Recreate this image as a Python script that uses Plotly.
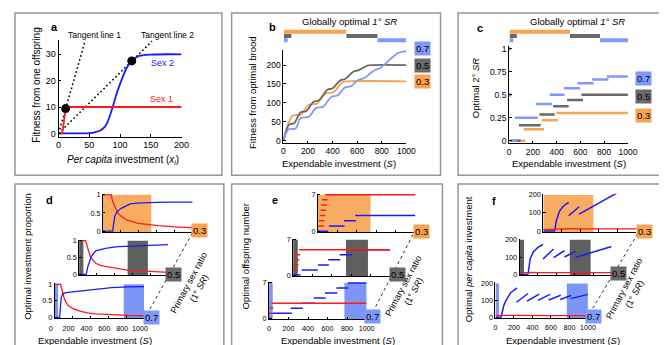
import plotly.graph_objects as go

W, H = 667, 345
FONT = "Liberation Sans, Arial, Helvetica, sans-serif"

RED = "rgb(255,25,25)"
BLUE = "rgb(25,25,255)"
C03 = "rgb(247,163,80)"
C05 = "rgb(105,105,105)"
C07 = "rgb(128,152,250)"
R03 = "rgb(248,172,98)"
R05 = "rgb(95,95,95)"
R07 = "rgb(125,150,245)"

# ---------------- Panel a data ----------------
a_sex1_x = [0, 6, 11.5, 12.5, 200]
a_sex1_y = [0, 0, 9.4, 10, 10]
a_sex2_x = [0, 50, 60, 67, 75, 80, 88, 95, 102, 110, 119, 130, 150, 200]
a_sex2_y = [0, 0.1, 0.5, 1, 2.5, 4.5, 10, 15.5, 20, 24.5, 27.5, 29.3, 29.9, 30]
a_tan1_x = [0, 43]
a_tan1_y = [0, 35]
a_tan2_x = [0, 152]
a_tan2_y = [0, 35]
a_pts_x = [11.5, 119]
a_pts_y = [9.4, 27.5]
a_xticks = [0, 50, 100, 150, 200]
a_yticks = [0, 10, 20, 30]

# ---------------- Panel b data ----------------
b_S_03 = [0, 75, 140, 206, 272, 344, 405, 484, 524, 1000]
b_F_03 = [0, 66, 68, 95, 98, 125, 128, 155, 157, 157]
b_S_05 = [0, 48, 87, 140, 185, 246, 286, 360, 397, 466, 503, 571, 608, 690, 740, 1000]
b_F_05 = [0, 43, 46, 75, 78, 103, 106, 135, 138, 160, 163, 183, 186, 199, 200, 200]
b_S_07 = [0, 42, 100, 140, 206, 265, 325, 386, 444, 497, 550, 611, 656, 735, 788, 868, 934, 1000]
b_F_07 = [0, 30, 32, 60, 63, 86, 90, 115, 120, 140, 144, 161, 165, 185, 192, 215, 232, 237]
b_yticks = [0, 50, 100, 150, 200]
S_ticks = [0, 200, 400, 600, 800, 1000]

# globally optimal primary sex ratio (rows: 1=0.3, 2=0.5, 3=0.7)
glob_03 = [[5, 512]]
glob_05 = [[5, 65], [512, 765]]
glob_07 = [[5, 35], [765, 1000]]

# ---------------- Panel c data ----------------
c_07_start = [10, 49, 227, 342, 460, 575, 699, 822]
c_07_end = [68, 241, 362, 466, 597, 712, 836, 1000]
c_07_val = [0, 1/4, 2/5, 3/6, 4/7, 5/8, 6/9, 7/10]
c_07_pts_S = [3, 8]
c_07_pts_v = [1, 0.5]
c_05_start = [25, 82, 255, 370, 488, 608]
c_05_end = [96, 266, 384, 501, 622, 1000]
c_05_val = [0, 1/6, 2/7, 3/8, 4/9, 5/10]
c_03_start = [55, 123, 274, 397]
c_03_end = [137, 293, 411, 1000]
c_03_val = [0, 1/8, 2/9, 3/10]
c_yticks = [0, 0.25, 0.5, 0.75, 1]
c_yticklabels = ["0", "0.25", "0.5", "0.75", "1"]

# ---------------- Panel d data ----------------
d_top_red_S = [0, 95, 105, 130, 165, 200, 235, 270, 305, 380, 445, 530, 620, 800, 1000]
d_top_red_p = [1, 1, 0.85, 0.69, 0.5, 0.42, 0.37, 0.3, 0.28, 0.22, 0.2, 0.17, 0.15, 0.12, 0.09]
d_top_blue_S = [0, 110, 120, 135, 150, 165, 200, 235, 270, 305, 380, 445, 600, 800, 1000]
d_top_blue_p = [0, 0, 0.2, 0.42, 0.5, 0.55, 0.62, 0.67, 0.72, 0.75, 0.77, 0.78, 0.79, 0.8, 0.8]
d_mid_red_S = [0, 74, 100, 130, 185, 240, 296, 370, 460, 555, 740, 1000]
d_mid_red_p = [1, 1, 0.75, 0.5, 0.33, 0.27, 0.24, 0.2, 0.15, 0.12, 0.1, 0.06]
d_mid_blue_S = [0, 80, 100, 137, 185, 240, 296, 370, 444, 600, 740, 1000]
d_mid_blue_p = [0, 0, 0.25, 0.53, 0.7, 0.74, 0.77, 0.8, 0.82, 0.84, 0.86, 0.88]
d_bot_red_S = [0, 65, 80, 109, 145, 200, 273, 365, 455, 636, 820, 1000]
d_bot_red_p = [1, 1, 0.85, 0.55, 0.37, 0.27, 0.2, 0.14, 0.11, 0.08, 0.06, 0.05]
d_bot_blue_S = [0, 55, 73, 91, 127, 200, 273, 365, 455, 636, 820, 1000]
d_bot_blue_p = [0, 0, 0.6, 0.72, 0.75, 0.77, 0.8, 0.83, 0.86, 0.9, 0.92, 0.93]
d_yticks = [0, 0.5, 1]
d_yticklabels = ["0", "0.5", "1"]

# optimal-region rectangles (S ranges)
rect_03 = [[0, 540]]
rect_05 = [[0, 48], [545, 772]]
rect_07 = [[0, 38], [772, 1000]]

# ---------------- Panel e data ----------------
e_top_blue_start = [0, 113, 267, 383]
e_top_blue_end = [107, 273, 390, 1000]
e_top_blue_n = [0, 1, 2, 3]
e_top_red_line = [73, 1000]
e_top_red_n = 7
e_top_dots_S = [33, 40, 48, 56, 64, 72]
e_top_dots_n = [1, 2, 3, 4, 5, 6]
e_mid_blue_start = [0, 87, 255, 362, 480, 597]
e_mid_blue_end = [77, 255, 369, 487, 607, 1000]
e_mid_blue_n = [0, 1, 2, 3, 4, 5]
e_mid_red_line = [60, 1000]
e_mid_red_n = 5
e_mid_dots_S = [20, 28, 36, 44]
e_mid_dots_n = [1, 2, 3, 4]
e_bot_blue_start = [0, 40, 223, 333, 457, 573, 690, 807]
e_bot_blue_end = [25, 233, 347, 473, 580, 700, 813, 1000]
e_bot_blue_n = [0, 1, 2, 3, 4, 5, 6, 7]
e_bot_red_line = [25, 1000]
e_bot_red_n = 3
e_bot_dots_S = [10, 17]
e_bot_dots_n = [1, 2]
e_yticks = [0, 7]

# ---------------- Panel f data ----------------
f_top_blue_S = [[0, 123], [123, 130, 140, 175, 210, 250, 274], [274, 386], [386, 1000]]
f_top_blue_v = [[0, 0], [0, 25, 57, 110, 134, 150, 157], [84, 134], [93, 268]]
f_mid_blue_S = [[0, 92], [92, 100, 115, 150, 200, 255], [255, 370], [370, 487], [487, 607], [607, 1000]]
f_mid_blue_v = [[0, 0], [0, 40, 90, 130, 155, 172], [89, 146], [97, 136], [100, 132], [98, 160]]
f_bot_blue_S = [[0, 60], [60, 70, 90, 113, 165, 233], [227, 352], [342, 473], [460, 590], [575, 706], [699, 820], [815, 1000]]
f_bot_blue_v = [[0, 0], [0, 32, 70, 98, 145, 173], [89, 140], [95, 137], [100, 135], [102, 130], [105, 128], [110, 135]]
f_red_S = [0, 50, 100, 150, 200, 300, 400, 600, 800, 1000]
f_top_red_v = [8, 9, 12, 14, 12, 13, 12, 12, 12, 12]
f_mid_red_v = [9, 11, 13, 12, 11, 12, 11, 11, 11, 11]
f_bot_red_v = [10, 12, 13, 12, 12, 11, 11, 11, 11, 11]
f_yticks = [0, 100, 200]

# ====================================================================
fig = go.Figure()
layout = {}


def xd(a, b):
    return [a / W, b / W]


def yd(top, bot):
    return [1 - bot / H, 1 - top / H]


def ax(n, xdom, xr, ydom, yr, xtv=None, xtl=True, ytv=None, ytt=None,
       visible=True, tfs=8.5, xshift=0, xstand=0):
    sx = "" if n == 1 else str(n)
    base = dict(showgrid=False, zeroline=False, fixedrange=True,
                showline=visible, linecolor="black", linewidth=1,
                ticks="inside" if visible else "", ticklen=2.5, tickwidth=1,
                tickcolor="black",
                tickfont=dict(family=FONT, size=tfs, color="black"))
    xa = dict(base, domain=xd(*xdom), range=xr, anchor="y" + sx,
              visible=visible)
    if xtv is not None:
        xa.update(tickmode="array", tickvals=xtv, showticklabels=xtl)
    if xshift:
        xa.update(ticklabelshift=xshift)
    if xstand:
        xa.update(ticklabelstandoff=xstand)
    ya = dict(base, domain=yd(*ydom), range=yr, anchor="x" + sx,
              visible=visible)
    if ytv is not None:
        ya.update(tickmode="array", tickvals=ytv)
        if ytt is not None:
            ya.update(ticktext=ytt)
    layout["xaxis" + sx] = xa
    layout["yaxis" + sx] = ya


def tr(n, x, y, color, width=1.5, dash=None, shape="linear", mode="lines",
       marker=None, smoothing=1.0):
    sx = "" if n == 1 else str(n)
    line = dict(color=color, width=width, shape=shape)
    if shape == "spline":
        line["smoothing"] = smoothing
    if dash:
        line["dash"] = dash
    kw = dict(x=x, y=y, mode=mode, line=line, xaxis="x" + sx, yaxis="y" + sx,
              showlegend=False, hoverinfo="skip", connectgaps=False)
    if marker:
        kw["marker"] = marker
    fig.add_trace(go.Scatter(**kw))


def segs(starts, ends, vals):
    xs, ys = [], []
    for s, e, v in zip(starts, ends, vals):
        xs += [s, e, None]
        ys += [v, v, None]
    return xs, ys


def joined(Slist, Vlist):
    xs, ys = [], []
    for s, v in zip(Slist, Vlist):
        xs += list(s) + [None]
        ys += list(v) + [None]
    return xs, ys


annots = []
shapes = []


def txt(x, y, text, size=9.5, angle=0, color="black", bold=False,
        xanchor="center", yanchor="middle", bg=None, pad=0):
    if bold:
        text = "<b>" + text + "</b>"
    a = dict(x=x / W, y=1 - y / H, xref="paper", yref="paper", text=text,
             showarrow=False, textangle=angle, xanchor=xanchor,
             yanchor=yanchor, font=dict(family=FONT, size=size, color=color))
    if bg:
        a.update(bgcolor=bg, borderpad=pad)
    annots.append(a)


DOTS = "1.6px,2.6px"

# ---------------- Panel a ----------------
ax(1, (45.7, 171.7), [0, 200], (29, 127.5), [-1.2, 35.3], xtv=a_xticks,
   ytv=a_yticks, tfs=9)
tr(1, a_tan1_x, a_tan1_y, "black", 1.6, dash=DOTS)
tr(1, a_tan2_x, a_tan2_y, "black", 1.6, dash=DOTS)
tr(1, a_sex2_x, a_sex2_y, BLUE, 1.8, shape="spline", smoothing=0.8)
tr(1, a_sex1_x, a_sex1_y, RED, 1.8)
tr(1, a_pts_x, a_pts_y, "black", mode="markers",
   marker=dict(size=9, color="black"))
txt(23, 75, "Fitness from one offspring", size=10, angle=-90)
txt(111.7, 151.5, "<i>Per capita</i> investment (<i>x<sub>i</sub></i>)",
    size=10)
txt(41.7, 15, "a", size=11, bold=True)
txt(82.7, 23.3, "Tangent line 1", size=8.5)
txt(157.7, 23.3, "Tangent line 2", size=8.5)
txt(151.7, 52.3, "Sex 2", size=9, color=BLUE)
txt(151, 89, "Sex 1", size=9, color=RED)

# ---------------- Panel b ----------------
ax(2, (276, 402), [0, 1000], (39, 134.3), [-6.7, 239.5], xtv=S_ticks,
   ytv=b_yticks, tfs=8.5)
ax(3, (276, 402), [0, 1000], (17, 32), [3.7, 0.3], visible=False)
tr(2, b_S_03, b_F_03, C03, 1.8, shape="spline", smoothing=0.9)
tr(2, b_S_05, b_F_05, C05, 1.8, shape="spline", smoothing=0.9)
tr(2, b_S_07, b_F_07, C07, 1.8, shape="spline", smoothing=0.9)


def glob_bars(n):
    for rows, row, col in ((glob_03, 1, C03), (glob_05, 2, C05),
                           (glob_07, 3, C07)):
        xs, ys = segs([r[0] for r in rows], [r[1] for r in rows],
                      [row] * len(rows))
        tr(n, xs, ys, col, 4)


glob_bars(3)
txt(343.7, 10, "Globally optimal <i>1° SR</i>")
txt(264.7, 15, "b", size=11, bold=True)
txt(243.7, 83, "Fitness from optimal brood", angle=-90)
txt(333, 155, "Expendable investment (<i>S</i>)")
txt(418.7, 37.7, "0.7", bg=C07, pad=1)
txt(418.7, 54.3, "0.5", bg=C05, pad=1)
txt(418.7, 71, "0.3", bg=C03, pad=1)

# ---------------- Panel c ----------------
ax(4, (507.3, 629), [0, 1000], (35, 134.5), [-0.03, 1.03], xtv=S_ticks,
   ytv=c_yticks, ytt=c_yticklabels, tfs=8.5)
ax(5, (507.3, 629), [0, 1000], (17, 32), [3.7, 0.3], visible=False)
xs, ys = segs(c_03_start, c_03_end, c_03_val)
tr(4, xs, ys, C03, 2.5)
xs, ys = segs(c_05_start, c_05_end, c_05_val)
tr(4, xs, ys, C05, 2.5)
xs, ys = segs(c_07_start, c_07_end, c_07_val)
tr(4, xs, ys, C07, 2.5)
tr(4, c_07_pts_S, c_07_pts_v, C07, mode="markers",
   marker=dict(size=3.5, color=C07))
glob_bars(5)
txt(577.3, 10, "Globally optimal <i>1° SR</i>")
txt(477.3, 16.7, "c", size=11, bold=True)
txt(472.3, 78, "Optimal 2° <i>SR</i>", angle=-90)
txt(569, 155, "Expendable investment (<i>S</i>)")
txt(645, 67.7, "0.7", bg=C07, pad=1)
txt(645, 86, "0.5", bg=C05, pad=1)
txt(645, 106, "0.3", bg=C03, pad=1)


def rects(n, ranges, color):
    sx = str(n)
    for r0, r1 in ranges:
        shapes.append(dict(type="rect", xref="x" + sx, yref="y" + sx + " domain",
                           x0=r0, x1=r1, y0=0, y1=0.97, fillcolor=color,
                           line=dict(width=0), layer="below"))


SMALL = 7.2

# ---------------- Panel d ----------------
ax(6, (91, 183), [0, 1000], (186, 225.5), [-0.03, 1.03], xtv=S_ticks,
   xtl=False, ytv=d_yticks, ytt=d_yticklabels, tfs=SMALL)
ax(7, (66.7, 158), [0, 1000], (233, 269.7), [-0.03, 1.03], xtv=S_ticks,
   xtl=False, ytv=d_yticks, ytt=d_yticklabels, tfs=SMALL)
ax(8, (41.7, 133.3), [0, 1000], (277.7, 313.7), [-0.03, 1.03],
   xtv=S_ticks, ytv=d_yticks, ytt=d_yticklabels, tfs=SMALL, xshift=-4,
   xstand=3)
rects(6, rect_03, R03)
rects(7, rect_05, R05)
rects(8, rect_07, R07)
tr(6, d_top_red_S, d_top_red_p, RED, 1.3)
tr(6, d_top_blue_S, d_top_blue_p, BLUE, 1.3)
tr(7, d_mid_red_S, d_mid_red_p, RED, 1.3)
tr(7, d_mid_blue_S, d_mid_blue_p, BLUE, 1.3)
tr(8, d_bot_red_S, d_bot_red_p, RED, 1.3)
tr(8, d_bot_blue_S, d_bot_blue_p, BLUE, 1.3)
txt(36.7, 192.7, "d", size=11, bold=True)
txt(14, 250, "Optimal investment proportion", angle=-90)
txt(83.3, 336, "Expendable investment (<i>S</i>)")
shapes.append(dict(type="line", xref="paper", yref="paper",
                   x0=182.7 / W, y0=1 - 226.3 / H, x1=137.7 / W, y1=1 - 307 / H,
                   line=dict(color="black", width=0.8, dash="dot")))
txt(190, 224, "0.3", bg=C03, pad=1)
txt(163.5, 268.7, "0.5", bg=C05, pad=1)
txt(140.5, 312.7, "0.7", bg=C07, pad=1)
txt(184, 280, "Primary sex ratio<br>(1° <i>SR</i>)", size=9, angle=-62)

# ---------------- Panel e ----------------
ax(9, (311.3, 411.3), [0, 1000], (185.9, 225.4), [-0.2, 7.2], xtv=S_ticks,
   xtl=False, ytv=e_yticks, tfs=SMALL)
ax(10, (286, 385.3), [0, 1000], (232, 270.3), [-0.2, 7.2], xtv=S_ticks,
   xtl=False, ytv=e_yticks, tfs=SMALL)
ax(11, (261.3, 361.3), [0, 1000], (276.3, 314.7), [-0.2, 7.2], xtv=S_ticks,
   ytv=e_yticks, tfs=SMALL, xstand=2)
rects(9, rect_03, R03)
rects(10, rect_05, R05)
rects(11, rect_07, R07)
for n, bs, be, bn, rl, rn, ds, dn in (
        (9, e_top_blue_start, e_top_blue_end, e_top_blue_n, e_top_red_line,
         e_top_red_n, e_top_dots_S, e_top_dots_n),
        (10, e_mid_blue_start, e_mid_blue_end, e_mid_blue_n, e_mid_red_line,
         e_mid_red_n, e_mid_dots_S, e_mid_dots_n),
        (11, e_bot_blue_start, e_bot_blue_end, e_bot_blue_n, e_bot_red_line,
         e_bot_red_n, e_bot_dots_S, e_bot_dots_n)):
    xs, ys = segs(bs, be, bn)
    tr(n, xs, ys, BLUE, 1.5)
    tr(n, rl, [rn, rn], RED, 1.5)
    tr(n, ds, dn, RED, mode="markers",
       marker=dict(symbol="line-ew", size=4, line=dict(color=RED, width=1.5)))
txt(267, 192.7, "e", size=11, bold=True)
txt(237, 250, "Optimal offspring number", angle=-90)
txt(332, 336, "Expendable investment (<i>S</i>)")
shapes.append(dict(type="line", xref="paper", yref="paper",
                   x0=408.7 / W, y0=1 - 228 / H, x1=368.7 / W, y1=1 - 305.3 / H,
                   line=dict(color="black", width=0.8, dash="dot")))
txt(417.3, 224.3, "0.3", bg=C03, pad=1)
txt(392.7, 268.7, "0.5", bg=C05, pad=1)
txt(367, 312, "0.7", bg=C07, pad=1)
txt(405, 283, "Primary sex ratio<br>(1° <i>SR</i>)", size=9, angle=-62)

# ---------------- Panel f ----------------
ax(12, (542.3, 637.3), [0, 1000], (186.1, 225.2), [-5, 205], xtv=S_ticks,
   xtl=False, ytv=f_yticks, tfs=SMALL)
ax(13, (518, 612.3), [0, 1000], (232.1, 269.6), [-5, 205], xtv=S_ticks,
   xtl=False, ytv=f_yticks, tfs=SMALL)
ax(14, (493.3, 588), [0, 1000], (276.8, 313.6), [-5, 205], xtv=S_ticks,
   ytv=f_yticks, tfs=SMALL, xstand=2)
rects(12, rect_03, R03)
rects(13, rect_05, R05)
rects(14, rect_07, R07)
for n, bS, bV, rV in ((12, f_top_blue_S, f_top_blue_v, f_top_red_v),
                      (13, f_mid_blue_S, f_mid_blue_v, f_mid_red_v),
                      (14, f_bot_blue_S, f_bot_blue_v, f_bot_red_v)):
    xs, ys = joined(bS, bV)
    tr(n, xs, ys, BLUE, 1.5)
    tr(n, f_red_S, rV, RED, 1.3)
txt(491.7, 193.7, "f", size=11, bold=True)
txt(465.7, 253.7, "Optimal <i>per capita</i> investment", angle=-90)
txt(562, 336, "Expendable investment (<i>S</i>)")
shapes.append(dict(type="line", xref="paper", yref="paper",
                   x0=639 / W, y0=1 - 227 / H, x1=590.7 / W, y1=1 - 307 / H,
                   line=dict(color="black", width=0.8, dash="dot")))
txt(645.7, 224.3, "0.3", bg=C03, pad=1)
txt(619, 267.7, "0.5", bg=C05, pad=1)
txt(594, 312, "0.7", bg=C07, pad=1)
txt(631, 286, "Primary sex ratio<br>(1° <i>SR</i>)", size=9, angle=-62)

# ---------------- panel frames ----------------
for x0, y0, x1, y1 in ((1, 1, 213, 167), (223, 1, 437, 167),
                       (455, 1, 666, 167), (1, 176, 215, 344),
                       (223, 176, 439, 344), (455, 176, 666, 344)):
    shapes.append(dict(type="rect", xref="paper", yref="paper",
                       x0=x0 / W, x1=x1 / W, y0=1 - y1 / H, y1=1 - y0 / H,
                       line=dict(color="rgb(150,150,150)", width=1.5),
                       fillcolor="rgba(0,0,0,0)", layer="above"))

fig.update_layout(width=W, height=H, autosize=False,
                  margin=dict(l=0, r=0, t=0, b=0, pad=0),
                  paper_bgcolor="white", plot_bgcolor="rgba(0,0,0,0)",
                  font=dict(family=FONT, size=9, color="black"),
                  showlegend=False, annotations=annots, shapes=shapes,
                  **layout)
fig.write_html("out.html")
